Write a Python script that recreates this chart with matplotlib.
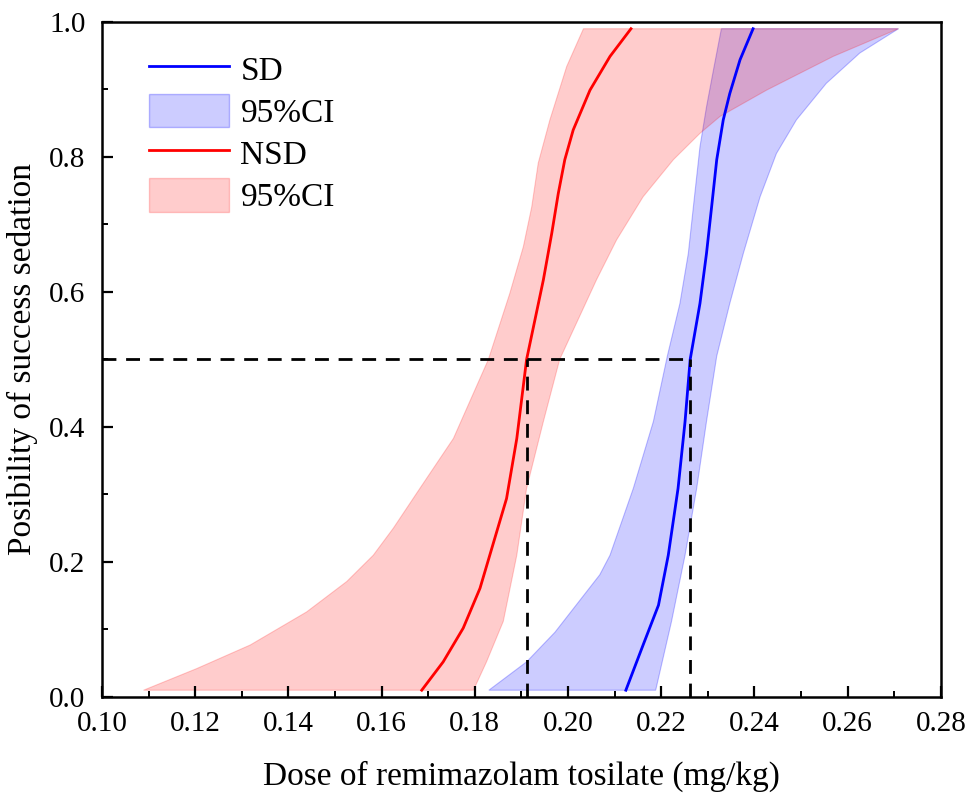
import matplotlib
matplotlib.use('Agg')
from matplotlib import pyplot
from matplotlib.lines import Line2D
from matplotlib.patches import Patch
import matplotlib.ticker as ticker

pyplot.rcParams['font.family'] = ['Liberation Serif', 'DejaVu Serif']

# SD curve and its 95% CI (dose in mg/kg, probability)
sd_x = [0.2124, 0.2161, 0.2194, 0.2215, 0.2236, 0.2251, 0.2262, 0.2283, 0.2297, 0.2308,
        0.2319, 0.2333, 0.2347, 0.2369, 0.2397]
sd_y = [0.01, 0.077, 0.136, 0.210, 0.309, 0.408, 0.50, 0.583, 0.657, 0.726,
        0.796, 0.855, 0.894, 0.944, 0.99]
sd_lo_x = [0.1830, 0.1911, 0.1972, 0.2068, 0.2090, 0.2140, 0.2183, 0.2213, 0.2240, 0.2258,
           0.2272, 0.2283, 0.2297, 0.2312, 0.2329]
sd_lo_y = [0.01, 0.052, 0.096, 0.181, 0.210, 0.309, 0.408, 0.505, 0.583, 0.657,
           0.746, 0.815, 0.874, 0.929, 0.99]
sd_hi_x = [0.2188, 0.2222, 0.2251, 0.2276, 0.2297, 0.2319, 0.2347, 0.2376, 0.2412, 0.2447,
           0.2490, 0.2554, 0.2626, 0.2709]
sd_hi_y = [0.01, 0.112, 0.210, 0.309, 0.408, 0.505, 0.583, 0.657, 0.741, 0.805,
           0.855, 0.909, 0.954, 0.99]

# NSD curve and its 95% CI
nsd_x = [0.1686, 0.1732, 0.1775, 0.1811, 0.1832, 0.1868, 0.1890, 0.1911, 0.1929, 0.1947,
         0.1965, 0.1979, 0.1993, 0.2011, 0.2047, 0.2090, 0.2135]
nsd_y = [0.01, 0.052, 0.102, 0.161, 0.210, 0.294, 0.383, 0.50, 0.559, 0.618,
         0.687, 0.746, 0.796, 0.840, 0.899, 0.949, 0.99]
nsd_lo_x = [0.1089, 0.1203, 0.1318, 0.1439, 0.1525, 0.1582, 0.1625, 0.1682, 0.1754, 0.1829,
            0.1875, 0.1904, 0.1922, 0.1936, 0.1961, 0.1997, 0.2033]
nsd_lo_y = [0.01, 0.042, 0.077, 0.126, 0.171, 0.210, 0.250, 0.309, 0.383, 0.50,
            0.598, 0.667, 0.726, 0.791, 0.855, 0.934, 0.99]
nsd_hi_x = [0.1797, 0.1825, 0.1861, 0.1890, 0.1911, 0.1947, 0.1982, 0.2061, 0.2104, 0.2161,
            0.2226, 0.2283, 0.2326, 0.2426, 0.2569, 0.2709]
nsd_hi_y = [0.01, 0.052, 0.112, 0.210, 0.309, 0.408, 0.50, 0.618, 0.677, 0.741,
            0.796, 0.835, 0.860, 0.899, 0.949, 0.99]

ed50_nsd = 0.1912
ed50_sd = 0.2261

fig = pyplot.figure(figsize=(9.69, 7.99), dpi=100)
ax = fig.add_axes([0.1053, 0.1277, 0.8657, 0.8448])

# CI bands as closed polygons (lower edge up, upper edge back down)
ax.fill(sd_lo_x + sd_hi_x[::-1], sd_lo_y + sd_hi_y[::-1],
        facecolor=(0, 0, 1, 0.2), edgecolor=(0, 0, 1, 0.25), linewidth=0.8)
ax.fill(nsd_lo_x + nsd_hi_x[::-1], nsd_lo_y + nsd_hi_y[::-1],
        facecolor=(1, 0, 0, 0.2), edgecolor=(1, 0, 0, 0.2), linewidth=0.8)

ax.plot(sd_x, sd_y, color='#0000ff', linewidth=2)
ax.plot(nsd_x, nsd_y, color='#ff0000', linewidth=2)

# ED50 guides
dash = (0, (5, 3.5))
ax.plot([0.10, ed50_sd], [0.5, 0.5], color='black', linestyle=dash, linewidth=2)
ax.plot([ed50_nsd, ed50_nsd], [0.0, 0.5], color='black', linestyle=dash, linewidth=2)
ax.plot([ed50_sd, ed50_sd], [0.0, 0.5], color='black', linestyle=dash, linewidth=2)

ax.set_xlim(0.10, 0.28)
ax.set_ylim(0.0, 1.0)
ax.xaxis.set_major_locator(ticker.MultipleLocator(0.02))
ax.xaxis.set_minor_locator(ticker.MultipleLocator(0.01))
ax.yaxis.set_major_locator(ticker.MultipleLocator(0.2))
ax.yaxis.set_minor_locator(ticker.MultipleLocator(0.1))
ax.xaxis.set_major_formatter(ticker.FormatStrFormatter('%.2f'))
ax.yaxis.set_major_formatter(ticker.FormatStrFormatter('%.1f'))
ax.tick_params(which='major', direction='in', length=8, width=1.6, labelsize=21)
ax.tick_params(axis='x', which='major', pad=10)
ax.tick_params(axis='y', which='major', pad=12)
ax.tick_params(which='minor', direction='in', length=4.5, width=1.4)
for s in ax.spines.values():
    s.set_linewidth(1.8)

ax.set_xlabel('Dose of remimazolam tosilate (mg/kg)', fontsize=24, labelpad=17)
ax.set_ylabel('Posibility of success sedation', fontsize=24, labelpad=8)

handles = [Line2D([], [], color='#0000ff', linewidth=2),
           Patch(facecolor=(0, 0, 1, 0.2), edgecolor=(0, 0, 1, 0.25)),
           Line2D([], [], color='#ff0000', linewidth=2),
           Patch(facecolor=(1, 0, 0, 0.2), edgecolor=(1, 0, 0, 0.2))]
ax.legend(handles, ['SD', '95%CI', 'NSD', '95%CI'], loc='upper left',
          bbox_to_anchor=(0.02, 1.0), frameon=False, fontsize=24,
          handlelength=2.4, handleheight=1.15, labelspacing=0.22, handletextpad=0.35)

fig.savefig('out.png', dpi=100)
